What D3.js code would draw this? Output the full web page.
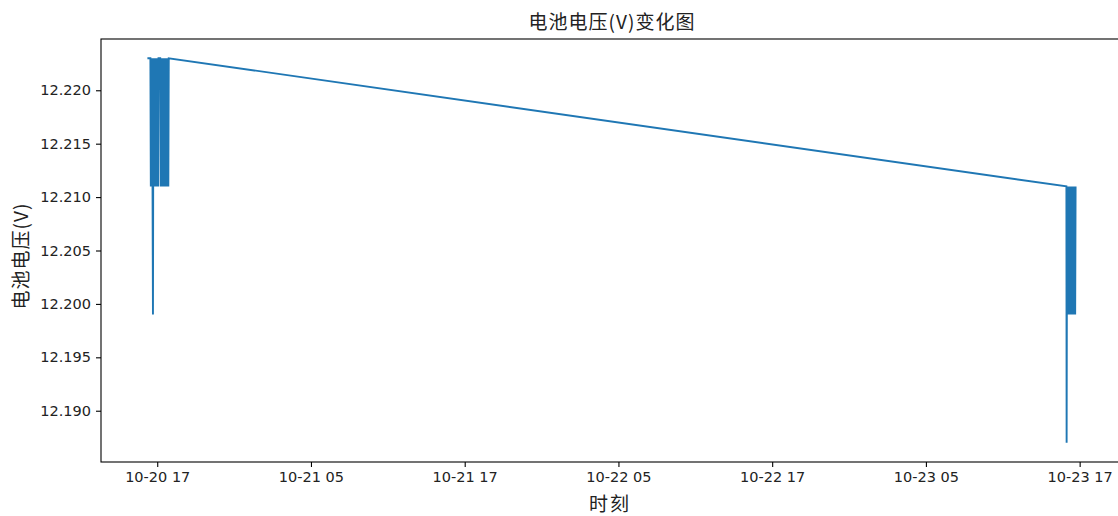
<!doctype html>
<html>
  <head>
    <meta charset="utf-8">
    <script src="https://cdn.jsdelivr.net/npm/d3@7/dist/d3.min.js"></script>
    <style>
      body, html {
        margin: 0;
        background: #fff;
      }
      svg {
        display: block;
      }
      .tick text {
        font-family: "DejaVu Sans", sans-serif;
        font-size: 14.5px;
        fill: #222;
      }
      .cjk {
        font-family: "Noto Sans CJK SC", sans-serif;
        fill: #222;
      }
      path.volt {
        fill: none;
        stroke: #1f77b4;
        stroke-width: 1.9px;
        stroke-linejoin: miter;
      }
    </style>
  </head>
  <body>
    <svg width="1118" height="516"></svg>
    <script>
      // first burst of readings, 10-20 afternoon
      var dayA = "2023-10-20";
      var timesA = ["16:14","16:22","16:28","16:30","16:32","16:34","16:36","16:38","16:40","16:42",
        "16:44","16:46","16:48","16:50","16:52","16:54","16:56","16:58","17:00","17:02",
        "17:04","17:06","17:14","17:16","17:18","17:20","17:22","17:24","17:26","17:28",
        "17:30","17:32","17:34","17:36","17:38","17:40","17:42","17:44","17:46","17:48",
        "17:50","17:52","17:54"];
      var voltsA = [12.223,12.223,12.223,12.211,12.223,12.211,12.223,12.211,12.199,12.223,
        12.211,12.223,12.211,12.223,12.211,12.223,12.211,12.223,12.211,12.223,
        12.211,12.223,12.223,12.211,12.223,12.211,12.223,12.211,12.223,12.211,
        12.223,12.211,12.223,12.211,12.223,12.211,12.223,12.211,12.223,12.211,
        12.223,12.211,12.223];

      // second burst, 10-23 afternoon
      var dayB = "2023-10-23";
      var timesB = ["15:58","15:59","16:01","16:03","16:05","16:07","16:09","16:11","16:13","16:15",
        "16:17","16:19","16:21","16:23","16:25","16:27","16:29","16:31","16:33","16:35",
        "16:37","16:39","16:41"];
      var voltsB = [12.211,12.187,12.211,12.199,12.211,12.199,12.211,12.199,12.211,12.199,
        12.211,12.199,12.211,12.199,12.211,12.199,12.211,12.199,12.211,12.199,
        12.211,12.199,12.211];

      var xTicks = ["2023-10-20 17:00","2023-10-21 05:00","2023-10-21 17:00","2023-10-22 05:00",
        "2023-10-22 17:00","2023-10-23 05:00","2023-10-23 17:00"];
      var yTicks = [12.190, 12.195, 12.200, 12.205, 12.210, 12.215, 12.220];

      var parse = d3.timeParse("%Y-%m-%d %H:%M");
      var data = timesA.map((t, i) => ({t: parse(dayA + " " + t), v: voltsA[i]}))
        .concat(timesB.map((t, i) => ({t: parse(dayB + " " + t), v: voltsB[i]})));

      var margin = {left: 101, top: 39},
          width = 1021, height = 423;

      var svg = d3.select("svg");
      var g = svg.append("g").attr("transform", "translate(" + margin.left + "," + margin.top + ")");

      var tExt = d3.extent(data, d => d.t);
      var tPad = (tExt[1] - tExt[0]) * 0.05;
      var x = d3.scaleTime()
        .domain([new Date(+tExt[0] - tPad), new Date(+tExt[1] + tPad)])
        .range([0, width]);

      var vExt = d3.extent(data, d => d.v);
      var vPad = (vExt[1] - vExt[0]) * 0.05;
      var y = d3.scaleLinear()
        .domain([vExt[0] - vPad, vExt[1] + vPad])
        .range([height, 0]);

      var line = d3.line().x(d => x(d.t)).y(d => y(d.v));
      g.append("path").datum(data).attr("class", "volt").attr("d", line);

      var xAxis = d3.axisBottom(x)
        .tickValues(xTicks.map(parse))
        .tickFormat(d3.timeFormat("%m-%d %H"))
        .tickSize(5).tickSizeOuter(0).tickPadding(5);
      var yAxis = d3.axisLeft(y)
        .tickValues(yTicks)
        .tickFormat(d3.format(".3f"))
        .tickSize(5).tickSizeOuter(0).tickPadding(5);

      g.append("g").attr("transform", "translate(0," + height + ")").call(xAxis);
      g.append("g").call(yAxis);
      g.selectAll(".domain").remove();
      g.selectAll(".tick line").attr("stroke", "#000").attr("stroke-width", 1.1);

      // frame
      g.append("rect")
        .attr("width", width).attr("height", height)
        .attr("fill", "none").attr("stroke", "#000").attr("stroke-width", 1.1);

      svg.append("text").attr("class", "cjk")
        .attr("x", 612).attr("y", 29)
        .attr("text-anchor", "middle")
        .style("font-size", "19px").style("letter-spacing", "1px")
        .text("电池电压(V)变化图");

      svg.append("text").attr("class", "cjk")
        .attr("x", 610).attr("y", 511)
        .attr("text-anchor", "middle")
        .style("font-size", "19px").style("letter-spacing", "2px")
        .text("时刻");

      svg.append("text").attr("class", "cjk")
        .attr("transform", "translate(28,256) rotate(-90)")
        .attr("text-anchor", "middle")
        .style("font-size", "19px").style("letter-spacing", "1px")
        .text("电池电压(V)");
    </script>
  </body>
</html>
